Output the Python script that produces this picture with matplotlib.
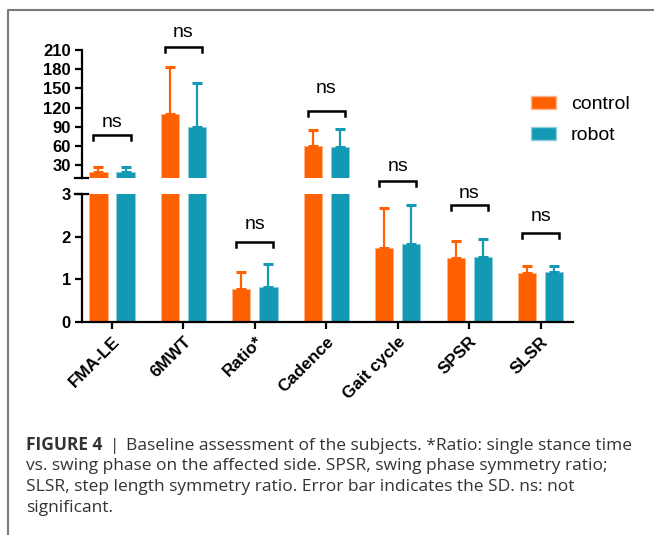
import matplotlib
matplotlib.use('Agg')
import matplotlib.pyplot as plt
import numpy as np
from matplotlib.lines import Line2D
from matplotlib.patches import Patch

# ---------------- data ----------------
categories = ['FMA-LE', '6MWT', 'Ratio*', 'Cadence', 'Gait cycle', 'SPSR', 'SLSR']
control_mean = [19, 110, 0.76, 60, 1.74, 1.49, 1.14]
control_sd = [8, 74, 0.42, 25, 0.94, 0.42, 0.17]
robot_mean = [19, 89.5, 0.82, 58.5, 1.84, 1.53, 1.16]
robot_sd = [8, 69.5, 0.54, 27.5, 0.91, 0.41, 0.16]
series_names = ['control', 'robot']
sig_labels = ['ns', 'ns', 'ns', 'ns', 'ns', 'ns', 'ns']
yticks_upper = [30, 60, 90, 120, 150, 180, 210]
yticks_lower = [0, 1, 2, 3]
caption_bold = 'FIGURE 4'
caption_sep = '|'
caption_lines = [
    'Baseline assessment of the subjects. *Ratio: single stance time',
    'vs. swing phase on the affected side. SPSR, swing phase symmetry ratio;',
    'SLSR, step length symmetry ratio. Error bar indicates the SD. ns: not',
    'significant.',
]

# ---------------- style ----------------
orange = '#FF6000'
teal = '#1399B4'
plt.rcParams['font.family'] = ['Liberation Sans', 'DejaVu Sans']

W, H = 654, 535
fig = plt.figure(figsize=(W / 100, H / 100), dpi=100)


def fx(px):
    return px / W


def fy(py):
    return 1 - py / H


left_px, right_px = 81.7, 573
ax_lo = fig.add_axes([fx(left_px), fy(321.7), fx(right_px) - fx(left_px), fy(194.3) - fy(321.7)])
ax_hi = fig.add_axes([fx(left_px), fy(177.8), fx(right_px) - fx(left_px), fy(50) - fy(177.8)])

x = np.arange(len(categories))
off, bw = 0.19, 0.255
zeros = np.zeros(len(categories))

for ax in (ax_lo, ax_hi):
    ax.patch.set_visible(False)
    ax.bar(x - off, control_mean, bw, color=orange, edgecolor='#FFB58A', linewidth=0.6, zorder=2)
    ax.bar(x + off, robot_mean, bw, color=teal, edgecolor='#8FD0DD', linewidth=0.6, zorder=2)
    ax.errorbar(x - off, control_mean, yerr=[zeros, control_sd], fmt='none', ecolor=orange,
                elinewidth=1.6, capsize=3.8, capthick=2.2, zorder=3)
    ax.errorbar(x + off, robot_mean, yerr=[zeros, robot_sd], fmt='none', ecolor=teal,
                elinewidth=1.6, capsize=3.8, capthick=2.2, zorder=3)
    ax.set_xlim(-0.424, 6.452)
    for s in ('top', 'right'):
        ax.spines[s].set_visible(False)
    for s in ('left', 'bottom'):
        ax.spines[s].set_linewidth(1.6)
    ax.tick_params(axis='both', width=1.6, length=4.8, pad=3)

ax_lo.set_ylim(0, 3)
ax_lo.set_yticks(yticks_lower)
ax_lo.set_yticklabels([str(v) for v in yticks_lower], fontweight='bold', fontsize=12)
ax_lo.set_xticks(x)
ax_lo.set_xticklabels(categories, rotation=45, ha='right', va='top', rotation_mode='anchor',
                      fontweight='bold', fontsize=12.3)
ax_lo.tick_params(axis='x', pad=4)

ax_hi.set_ylim(10, 210)
ax_hi.set_yticks(yticks_upper)
ax_hi.set_yticklabels([str(v) for v in yticks_upper], fontweight='bold', fontsize=12)
ax_hi.spines['bottom'].set_visible(False)
ax_hi.tick_params(axis='x', bottom=False, labelbottom=False)

# axis-break marks
for ypx in (177.8, 194.3):
    fig.add_artist(Line2D([fx(left_px - 6.5), fx(left_px + 6)], [fy(ypx), fy(ypx)],
                          color='black', lw=1.6))

# significance brackets
bracket_axis = [ax_hi, ax_hi, ax_lo, ax_hi, ax_lo, ax_lo, ax_lo]
bracket_level = [77, 215, 1.88, 115, 3.32, 2.75, 2.09]
ns_level = [97, 237, 2.28, 150, 3.65, 3.03, 2.47]
for i, (ax, yb, yt, lab) in enumerate(zip(bracket_axis, bracket_level, ns_level, sig_labels)):
    y0, y1 = ax.get_ylim()
    hpx = ax.get_position().height * H
    drop = 5.5 * (y1 - y0) / hpx
    ax.plot([i - 0.26, i - 0.26, i + 0.26, i + 0.26], [yb - drop, yb, yb, yb - drop],
            color='black', lw=1.8, clip_on=False, zorder=4, solid_joinstyle='miter')
    ax.text(i, yt, lab, ha='center', va='center', fontsize=14, clip_on=False, zorder=5)

# legend
handles = [Patch(facecolor=orange, edgecolor='#FFB58A', label=series_names[0]),
           Patch(facecolor=teal, edgecolor='#8FD0DD', label=series_names[1])]
fig.legend(handles=handles, loc='upper left', bbox_to_anchor=(fx(531), fy(96)), frameon=False,
           fontsize=14, handlelength=1.3, handleheight=0.65, handletextpad=0.75,
           labelspacing=0.7, borderpad=0, borderaxespad=0)

# frame lines
fig.add_artist(Line2D([fx(8), fx(8), fx(654)], [fy(535), fy(10), fy(10)], color='#7a7a7a', lw=1.5))

# caption
cap_family = ['Open Sans', 'Liberation Sans', 'DejaVu Sans']
cap_color = '#333333'
baselines = [450, 470.5, 491, 511.5]
target_right = 633
renderer = fig.canvas.get_renderer()


def draw_caption(size):
    arts = []
    tb = fig.text(fx(26), fy(baselines[0]), caption_bold, fontsize=size, fontweight='bold',
                  family=cap_family, color=cap_color, va='baseline', ha='left')
    arts.append(tb)
    xa = tb.get_window_extent(renderer).x1 + 7
    ts = fig.text(xa / W, fy(baselines[0]), caption_sep, fontsize=size, family=cap_family,
                  color=cap_color, va='baseline', ha='left')
    arts.append(ts)
    xb = ts.get_window_extent(renderer).x1 + 7
    t1 = fig.text(xb / W, fy(baselines[0]), caption_lines[0], fontsize=size, family=cap_family,
                  color=cap_color, va='baseline', ha='left')
    arts.append(t1)
    for bl, line in zip(baselines[1:], caption_lines[1:]):
        arts.append(fig.text(fx(26), fy(bl), line, fontsize=size, family=cap_family,
                             color=cap_color, va='baseline', ha='left'))
    return arts, t1.get_window_extent(renderer).x1


size0 = 11.0
arts, right = draw_caption(size0)
for a in arts:
    a.remove()
size1 = size0 * (target_right - 26) / (right - 26)
draw_caption(size1)

fig.savefig('out.png', dpi=100)
